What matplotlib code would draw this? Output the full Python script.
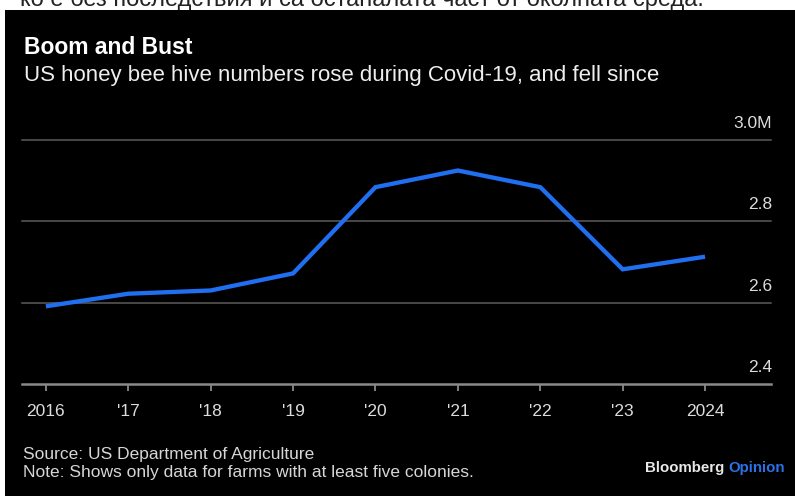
import matplotlib
matplotlib.use("Agg")
import matplotlib.pyplot as plt
import matplotlib.transforms as mtransforms
from matplotlib.patches import Rectangle

W, H = 795, 496

# data (million hives)
years = [2016, 2017, 2018, 2019, 2020, 2021, 2022, 2023, 2024]
hives = [2.591, 2.622, 2.630, 2.672, 2.884, 2.925, 2.884, 2.682, 2.713]
xlabels = ["2016", "'17", "'18", "'19", "'20", "'21", "'22", "'23", "2024"]
yticks = [2.4, 2.6, 2.8, 3.0]
ylabels = ["2.4", "2.6", "2.8", "3.0M"]

plt.rcParams['font.family'] = ['Liberation Sans', 'DejaVu Sans']

fig = plt.figure(figsize=(W / 100, H / 100), dpi=100)
fig.patch.set_facecolor('white')

def fx(px):
    return px / W

def fy(py):
    return 1 - py / H

# black card
fig.patches.append(Rectangle((fx(5), 0), 1 - fx(5), fy(10), transform=fig.transFigure,
                             facecolor='black', edgecolor='none', zorder=-5))

# cut-off text from the page above the card
fig.text(fx(20), fy(6), "ко е без последствия и са останалата част от околната среда.",
         fontsize=17, color='#222222', va='baseline', ha='left', zorder=-6)

ax = fig.add_axes([fx(22), fy(384), fx(771) - fx(22), fy(140) - fy(384)])
ax.set_facecolor('none')
ax.set_xlim(2015.71, 2024.80)
ax.set_ylim(2.4, 3.0)

for v in yticks[1:]:
    ax.axhline(v, color='#5c5c5c', lw=1.1, clip_on=False, zorder=1)

ax.plot(years, hives, color='#1f6ff0', lw=3.1, solid_joinstyle='miter',
        solid_capstyle='butt', zorder=3, clip_on=False)

for s in ['top', 'left', 'right']:
    ax.spines[s].set_visible(False)
ax.spines['bottom'].set_color('#8a8a8a')
ax.spines['bottom'].set_linewidth(1.8)

ax.set_yticks([])
ax.set_xticks(years)
ax.set_xticklabels(xlabels)
ax.tick_params(axis='x', length=5, width=1.3, color='#8a8a8a', direction='out',
               pad=9.5, labelsize=12.5, labelcolor='#dcdcdc')

trans = mtransforms.offset_copy(
    mtransforms.blended_transform_factory(ax.transAxes, ax.transData),
    fig=fig, x=1, y=9, units='dots')
for v, lab in zip(yticks, ylabels):
    ax.text(1.0, v, lab, transform=trans, ha='right', va='bottom',
            fontsize=12.5, color='#dcdcdc')

fig.text(fx(24), fy(48), "Boom and Bust", fontsize=16.5, fontweight='bold',
         color='white', va='center', ha='left')
fig.text(fx(24), fy(76), "US honey bee hive numbers rose during Covid-19, and fell since",
         fontsize=16, color='#eeeeee', va='center', ha='left')

fig.text(fx(23), fy(455), "Source: US Department of Agriculture",
         fontsize=12.5, color='#d6d6d6', va='center', ha='left')
fig.text(fx(23), fy(473), "Note: Shows only data for farms with at least five colonies.",
         fontsize=12.5, color='#d6d6d6', va='center', ha='left')

fig.text(fx(645), fy(468), "Bloomberg", fontsize=10.8, fontweight='bold',
         color='#e8e8e8', va='center', ha='left')
fig.text(fx(785), fy(468), "Opinion", fontsize=10.8, fontweight='bold',
         color='#2a72e6', va='center', ha='right')

fig.savefig("out.png", dpi=100, facecolor=fig.get_facecolor())
